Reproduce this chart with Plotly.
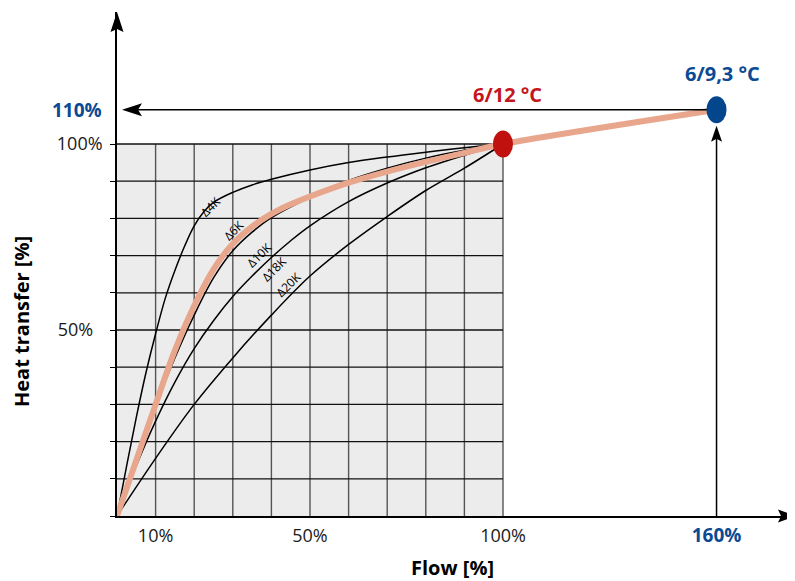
import plotly.graph_objects as go

# ------------------------------------------------------------------ data
grid_steps = [10, 20, 30, 40, 50, 60, 70, 80, 90, 100]
y_tick_values = [0, 10, 20, 30, 40, 50, 60, 70, 80, 90, 100]
y_tick_texts = ["", "", "", "", "", "50%\u00a0\u00a0", "", "", "", "", "100%"]
x_tick_values = [10, 50, 100, 160]
x_tick_texts = ["10%", "50%", "100%", "160%"]

# curves for different water temperature differences (flow %, heat transfer %)
flow_4k = [0, 2.5, 5, 7.5, 10, 12.5, 15, 17.5, 20, 22.5, 25, 30, 35, 40, 50, 60, 70, 80, 90, 100]
heat_4k = [0, 13.5, 26.5, 38.5, 49, 58.5, 66, 72.5, 78, 81.8, 84.3, 87, 89, 90.5, 93, 95, 96.5, 97.8, 99, 100]

flow_6k = [0, 5, 10, 15, 20, 25, 30, 35, 40, 50, 60, 70, 80, 90, 100]
heat_6k = [0, 15, 29.5, 42.5, 54, 64, 71.3, 76.3, 80.2, 85.7, 90.2, 93.5, 96.2, 98.3, 100]

flow_10k = [0, 5, 10, 15, 20, 25, 30, 35, 40, 45, 50, 60, 70, 80, 90, 100]
heat_10k = [0, 13.5, 25.5, 36, 45, 52.5, 59, 64.5, 69.5, 74, 78, 84.5, 89.5, 93.6, 97, 100]

flow_20k = [0, 10, 20, 30, 40, 50, 60, 70, 80, 90, 100]
heat_20k = [0, 15.5, 30, 42.5, 54, 64.5, 73, 80.5, 87.5, 93.5, 100]

# 6/12 °C operating curve, extended to the 6/9,3 °C point
flow_612 = [0, 5, 10, 15, 20, 25, 30, 35, 40, 45, 50, 60, 70, 80, 90, 100, 160]
heat_612 = [0, 15, 30, 44.5, 56.5, 66.3, 73.2, 77.8, 81.2, 83.8, 85.9, 89.6, 92.6, 95.2, 97.6, 100, 110]

point_names = ["6/12 °C", "6/9,3 °C"]
point_flow = [100, 160]
point_heat = [100, 110]

curve_labels = ["Δ4K", "Δ6K", "Δ10K", "Δ18K", "Δ20K"]

# ------------------------------------------------------------------ style / layout
# the page adds an 8 px body margin, so the figure is 8 px smaller than the window
W, H = 787, 573
L, R, T, B = 109, 0, 4, 65
XPX, YPX = 3.86, 3.72          # pixels per % on each axis
COMPRESS = 0.922               # schematic compression of the axes beyond 100 %

def s(v):
    return v if v <= 100 else 100 + (v - 100) * COMPRESS

PW, PH = W - L - R, H - T - B
x_max = PW / XPX
y_max = PH / YPX

RED = "#C0110F"
BLUE = "#03468C"
RED_TXT = "#C4161C"
BLUE_TXT = "#0B4A93"
ORANGE = "#E8A68D"
FONT = "Open Sans"

fig = go.Figure()

black_curves = [(flow_4k, heat_4k), (flow_6k, heat_6k), (flow_10k, heat_10k), (flow_20k, heat_20k)]
for fx, fy in black_curves:
    fig.add_trace(go.Scatter(x=[s(v) for v in fx], y=[s(v) for v in fy], mode="lines",
                             line=dict(color="black", width=1.5, shape="spline", smoothing=1),
                             hoverinfo="skip", showlegend=False))

fig.add_trace(go.Scatter(x=[s(v) for v in flow_612], y=[s(v) for v in heat_612], mode="lines",
                         line=dict(color=ORANGE, width=6, shape="spline", smoothing=0.8),
                         hoverinfo="skip", showlegend=False))

shapes = []
# shaded grid area
shapes.append(dict(type="rect", xref="x", yref="y", x0=0, x1=grid_steps[-1], y0=0, y1=grid_steps[-1],
                   fillcolor="#ECECEC", line=dict(width=0), layer="below"))
for v in grid_steps:
    shapes.append(dict(type="line", xref="x", yref="y", x0=v, x1=v, y0=0, y1=grid_steps[-1],
                       line=dict(color="#555555", width=1.4), layer="below"))
for v in grid_steps:
    shapes.append(dict(type="line", xref="x", yref="y", x0=0, x1=grid_steps[-1], y0=v, y1=v,
                       line=dict(color="#111111", width=1.3), layer="below"))

bx, by = s(point_flow[1]), s(point_heat[1])
# horizontal arrow from the 6/9,3 point to the heat-transfer axis
tip_gap = 5 / XPX
shapes.append(dict(type="line", xref="x", yref="y", x0=tip_gap + 4 / XPX, x1=bx, y0=by, y1=by,
                   line=dict(color="black", width=1.5)))
shapes.append(dict(type="path", xref="x", yref="y", xsizemode="pixel", ysizemode="pixel",
                   xanchor=tip_gap, yanchor=by,
                   path="M0,0 L20,6.5 L16,0 L20,-6.5 Z", fillcolor="black", line=dict(width=0)))
# vertical arrow from the flow axis to the 6/9,3 point
shapes.append(dict(type="line", xref="x", yref="y", x0=bx, x1=bx, y0=0, y1=by - 28 / YPX,
                   line=dict(color="black", width=1.5)))
shapes.append(dict(type="path", xref="x", yref="y", xsizemode="pixel", ysizemode="pixel",
                   xanchor=bx, yanchor=by,
                   path="M0,-16 L-5.5,-32 L0,-29 L5.5,-32 Z", fillcolor="black", line=dict(width=0)))
# axis arrowheads
shapes.append(dict(type="path", xref="paper", yref="y", xsizemode="pixel", ysizemode="pixel",
                   xanchor=0, yanchor=y_max,
                   path="M0,0 L-6.5,-20 L0,-17 L6.5,-20 Z", fillcolor="black", line=dict(width=0)))
shapes.append(dict(type="path", xref="x", yref="paper", xsizemode="pixel", ysizemode="pixel",
                   xanchor=x_max, yanchor=0,
                   path="M1,0 L-17,6.5 L-14,0 L-17,-6.5 Z", fillcolor="black", line=dict(width=0)))
# operating points
for px_, py_, col in [(s(point_flow[0]), s(point_heat[0]), RED), (bx, by, BLUE)]:
    shapes.append(dict(type="circle", xref="x", yref="y", xsizemode="pixel", ysizemode="pixel",
                       xanchor=px_, yanchor=py_, x0=-10, x1=10, y0=-13.5, y1=13.5,
                       fillcolor=col, line=dict(width=0), layer="above"))

annotations = []
label_pos = [(24.3, 83.1), (30.2, 76.7), (37.0, 70.2), (40.9, 66.4), (44.4, 62.3)]
for txt, (lx, ly) in zip(curve_labels, label_pos):
    annotations.append(dict(x=lx, y=ly, xref="x", yref="y", text=txt, showarrow=False,
                            textangle=-45, font=dict(family=FONT, size=12, color="black")))
annotations.append(dict(x=s(point_flow[0]), y=s(point_heat[0]), xref="x", yref="y",
                        text="<b>" + point_names[0] + "</b>", showarrow=False, yshift=50, xshift=4,
                        font=dict(family=FONT, size=20, color=RED_TXT)))
annotations.append(dict(x=bx, y=by, xref="x", yref="y",
                        text="<b>" + point_names[1] + "</b>", showarrow=False, yshift=36, xshift=6,
                        font=dict(family=FONT, size=20, color=BLUE_TXT)))
annotations.append(dict(x=0, y=by, xref="x", yref="y", text="<b>110%</b>", showarrow=False,
                        xanchor="right", xshift=-13,
                        font=dict(family=FONT, size=19, color=BLUE_TXT)))
annotations.append(dict(x=(452 - 117) / PW, y=-51 / PH, xref="paper", yref="paper",
                        text="<b>Flow [%]</b>", xanchor="center", yanchor="middle",
                        showarrow=False, font=dict(family=FONT, size=20, color="black")))
annotations.append(dict(x=(21 - 117) / PW, y=(516 - 322) / PH, xref="paper", yref="paper",
                        text="<b>Heat transfer [%]</b>", xanchor="center", yanchor="middle",
                        showarrow=False, textangle=-90, font=dict(family=FONT, size=20, color="black")))

x_tick_pos = [s(v) for v in x_tick_values]
x_tick_show = x_tick_texts[:-1] + ['<b><span style="color:%s;font-size:19px">%s</span></b>' % (BLUE_TXT, x_tick_texts[-1])]

fig.update_layout(
    template="none",
    width=W, height=H, autosize=False,
    margin=dict(l=L, r=R, t=T, b=B, pad=0, autoexpand=False),
    paper_bgcolor="white", plot_bgcolor="white",
    font=dict(family=FONT, size=18, color="#1a1a1a"),
    showlegend=False,
    shapes=shapes, annotations=annotations,
    xaxis=dict(range=[0, x_max], showgrid=False, zeroline=False, showline=True, automargin=False,
               linecolor="black", linewidth=1.6, ticks="", tickvals=x_tick_pos,
               ticktext=x_tick_show, ticklabelstandoff=3, fixedrange=True),
    yaxis=dict(range=[0, y_max], showgrid=False, zeroline=False, showline=True, automargin=False,
               linecolor="black", linewidth=1.6, ticks="outside", ticklen=5, tickwidth=1.4,
               tickcolor="black", tickvals=y_tick_values, ticktext=y_tick_texts,
               ticklabelstandoff=4, fixedrange=True),
)

fig.write_html("out.html")
